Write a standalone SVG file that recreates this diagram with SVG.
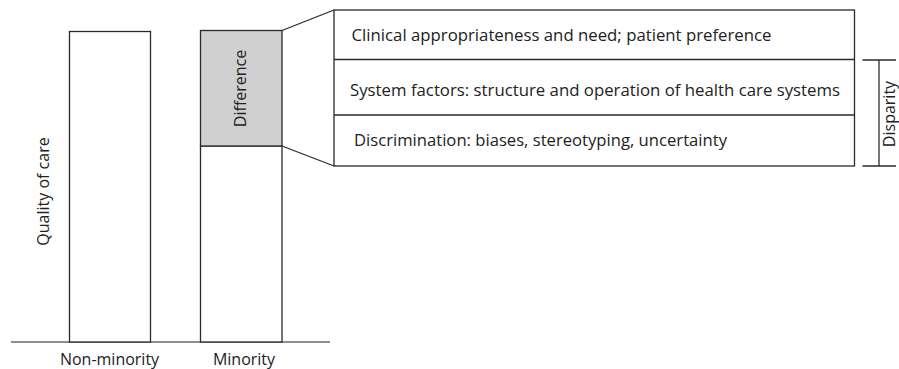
<svg xmlns="http://www.w3.org/2000/svg" width="899" height="369" viewBox="0 0 899 369">
<style>
.box{fill:#fff;stroke:#2a2a2a;stroke-width:1.3}
.gray{fill:#d0d0d1;stroke:#2a2a2a;stroke-width:1.3}
.ln{fill:none;stroke:#2a2a2a;stroke-width:1.3}
.axis{fill:none;stroke:#6a6a6a;stroke-width:1.5}
.lbl{font-family:"Open Sans","Liberation Sans",sans-serif;font-size:16px;fill:#222}
.row{font-family:"Open Sans","Liberation Sans",sans-serif;font-size:15.5px;fill:#222}
</style>
<rect width="899" height="369" fill="#fff"/>
<g id="axis">
<line class="axis" x1="11" y1="342" x2="330" y2="342"/>
<text class="lbl" transform="translate(48.5,191.5) rotate(-90)" text-anchor="middle">Quality of care</text>
</g>
<g id="non-minority">
<rect class="box" x="69.5" y="31.5" width="81" height="310.5"/>
<text class="lbl" x="109.5" y="364.5" text-anchor="middle">Non-minority</text>
</g>
<g id="minority">
<rect class="box" x="200.5" y="146" width="81.5" height="196"/>
<text class="lbl" x="244" y="364.5" text-anchor="middle">Minority</text>
</g>
<g id="difference">
<rect class="gray" x="200.5" y="30.5" width="81.5" height="115.5"/>
<text class="lbl" transform="translate(245.5,88.5) rotate(-90)" text-anchor="middle">Difference</text>
</g>
<g id="connectors">
<line class="ln" x1="282" y1="30.5" x2="334" y2="10"/>
<line class="ln" x1="282" y1="146" x2="334" y2="166"/>
</g>
<g id="factors">
<rect class="box" x="334" y="10" width="520.5" height="156"/>
<line class="ln" x1="334" y1="59.5" x2="854.5" y2="59.5"/>
<line class="ln" x1="334" y1="115" x2="854.5" y2="115"/>
<text class="row" x="351.5" y="40.5" textLength="420" lengthAdjust="spacingAndGlyphs">Clinical appropriateness and need; patient preference</text>
<text class="row" x="350" y="95.5" textLength="490" lengthAdjust="spacingAndGlyphs">System factors: structure and operation of health care systems</text>
<text class="row" x="354" y="146" textLength="373" lengthAdjust="spacingAndGlyphs">Discrimination: biases, stereotyping, uncertainty</text>
</g>
<g id="disparity">
<line class="ln" x1="862.5" y1="60" x2="896" y2="60"/>
<line class="ln" x1="862.5" y1="166" x2="896" y2="166"/>
<line class="ln" x1="879" y1="60" x2="879" y2="166"/>
<text class="lbl" transform="translate(894.5,114) rotate(-90)" text-anchor="middle">Disparity</text>
</g>
</svg>
